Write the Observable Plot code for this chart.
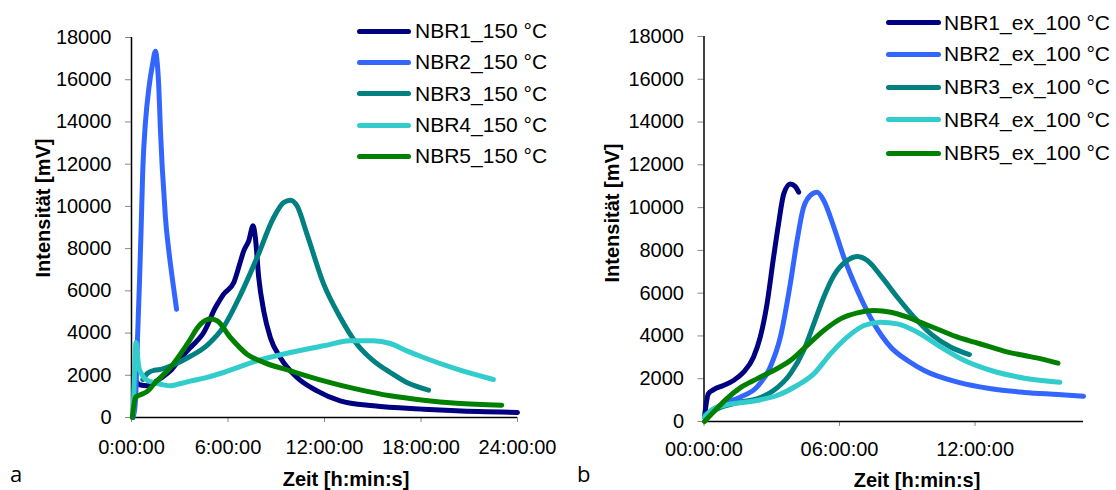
<!DOCTYPE html>
<html><head><meta charset="utf-8">
<script src="https://cdn.jsdelivr.net/npm/d3@7"></script>
<script src="https://cdn.jsdelivr.net/npm/@observablehq/plot@0.6"></script>
<style>
body{margin:0;background:#fff;}
#wrap{position:relative;width:1116px;height:490px;overflow:hidden;font-family:"Liberation Sans",Arial,sans-serif;color:#000;}
.panel{position:absolute;top:0;}
.lg{position:absolute;height:24px;line-height:24px;font-size:21px;white-space:nowrap;}
.sw{position:absolute;height:5px;border-radius:3px;}
.ttl{position:absolute;font-weight:bold;font-size:20px;white-space:nowrap;transform:translate(-50%,-50%);line-height:24px;}
.ttly{transform:translate(-50%,-50%) rotate(-90deg);}
.tag{position:absolute;font-family:"Open Sans",sans-serif;font-size:22px;line-height:normal;}
</style></head>
<body><div id="wrap"></div>
<script>
// ---------- data ----------
const colors = ["#000080", "#3366FF", "#008080", "#33CCCC", "#008000"];
const namesA = ["NBR1_150 °C", "NBR2_150 °C", "NBR3_150 °C", "NBR4_150 °C", "NBR5_150 °C"];
const namesB = ["NBR1_ex_100 °C", "NBR2_ex_100 °C", "NBR3_ex_100 °C", "NBR4_ex_100 °C", "NBR5_ex_100 °C"];
const yTicks = [0, 2000, 4000, 6000, 8000, 10000, 12000, 14000, 16000, 18000];
const xTicksA = [0, 6, 12, 18, 24];
const xLabelsA = ["0:00:00", "6:00:00", "12:00:00", "18:00:00", "24:00:00"];
const xTicksB = [0, 6, 12];
const xLabelsB = ["00:00:00", "06:00:00", "12:00:00"];
const yTitle = "Intensität [mV]";
const xTitle = "Zeit [h:min:s]";

// panel a (150 °C), time in hours
const a1_t = [0.3,0.5,1.0,1.3,1.8,2.42,3.0,3.66,4.1,4.49,4.8,5.11,5.4,5.73,6.36,6.7,6.98,7.29,7.56,7.70,7.91,8.22,8.63,9.25,10.29,11.53,12.98,15.05,18.16,20.2,24];
const a1_v = [1700,1550,1500,1600,1850,2210,2750,3316,3650,4026,4500,5053,5450,5842,6395,7200,7895,8369,9079,8527,6632,5053,3790,2842,1895,1263,790,553,395,316,240];
const a2_t = [0.1,0.25,0.35,0.5,0.6,0.7,0.87,1.08,1.3,1.49,1.6,1.7,1.8,1.9,2.0,2.11,2.32,2.59,2.8];
const a2_v = [0,800,3200,6500,9000,11700,14000,15600,16700,17350,16800,15600,13600,12000,10800,9470,7900,6300,5130];
const a3_t = [0.7,1.0,1.5,1.8,2.63,3.66,4.70,5.73,6.77,7.81,8.84,9.46,9.88,10.29,10.91,11.95,12.98,14.02,15.05,16.09,17.12,18.47];
const a3_v = [1800,2100,2250,2280,2500,2900,3420,4300,5800,7579,9474,10185,10295,10027,8685,6316,4737,3474,2684,2132,1658,1295];
const a4_t = [0.1,0.2,0.28,0.35,0.46,0.6,0.77,1.0,1.39,1.9,2.42,3.0,3.66,4.7,5.73,7.81,9.88,11.95,13.6,15.05,16.09,17.12,18.16,20.23,22.5];
const a4_v = [200,2500,3550,3100,2368,2100,1895,1750,1658,1560,1500,1600,1720,1900,2132,2684,3079,3395,3632,3632,3505,3158,2842,2290,1800];
const a5_t = [0.05,0.25,0.5,1.0,1.39,2.42,3.46,4.29,4.91,5.32,6.15,7.18,8.22,9.88,11.95,14.02,16.09,18.16,20.23,23.02];
const a5_v = [0,950,1060,1250,1580,2370,3470,4420,4660,4580,3790,3000,2610,2210,1737,1342,1026,821,679,584];

// panel b (ex 100 °C), time in hours
const b1_t = [0.02,0.19,0.41,0.86,1.30,1.75,2.19,2.49,2.79,3.08,3.30,3.53,3.82,4.04,4.19];
const b1_v = [200,1293,1480,1683,1916,2306,3007,3942,5500,7681,9239,10641,11109,10984,10719];
const b2_t = [0.05,0.86,1.6,2.34,2.93,3.38,3.82,4.12,4.41,4.79,5.01,5.30,5.75,6.19,6.79,7.53,8.27,9.01,9.75,11.23,12.71,14.19,15.67,16.8];
const b2_v = [300,826,1137,1605,2540,3942,6435,8460,10018,10641,10719,10330,9083,7681,6123,4565,3474,2851,2384,1838,1527,1360,1260,1180];
const b3_t = [0.05,0.86,1.6,2.34,3.08,3.82,4.41,4.86,5.30,5.75,6.34,6.79,7.23,7.82,8.56,9.30,10.04,10.93,11.75];
const b3_v = [300,701,904,1059,1449,2228,3319,4565,5811,6824,7525,7712,7525,6824,5811,4877,4098,3474,3132];
const b4_t = [0.02,0.41,0.86,2.34,3.23,4.12,4.86,5.6,6.34,7.08,7.82,8.56,9.45,10.49,11.53,12.71,14.19,15.75];
const b4_v = [200,592,748,982,1215,1683,2228,3163,3942,4487,4643,4565,4175,3474,2851,2384,2025,1838];
const b5_t = [0.02,0.27,0.56,1.0,1.6,2.34,3.08,3.82,4.56,5.30,6.04,6.79,7.53,8.27,9.01,9.75,10.49,11.23,11.97,12.71,13.45,14.19,14.93,15.67];
const b5_v = [0,280,592,1059,1574,1994,2384,2851,3552,4253,4799,5079,5188,5110,4877,4565,4253,3942,3708,3474,3241,3085,2929,2727];

// ---------- build ----------
const seriesA = [[a1_t,a1_v],[a2_t,a2_v],[a3_t,a3_v],[a4_t,a4_v],[a5_t,a5_v]];
const seriesB = [[b1_t,b1_v],[b2_t,b2_v],[b3_t,b3_v],[b4_t,b4_v],[b5_t,b5_v]];
const FONT = "'Liberation Sans', Arial, sans-serif";

function panel(series, names, o) {
  const data = series.flatMap((s, i) => s[0].map((t, j) => ({t, v: s[1][j], name: names[i]})));
  return Plot.plot({
    width: o.width, height: 490,
    marginLeft: o.ml, marginRight: o.mr, marginTop: o.mt, marginBottom: o.mb,
    x: {domain: [0, o.xmax]},
    y: {domain: [0, 18000]},
    color: {domain: names, range: colors},
    style: {fontFamily: FONT, fontSize: "20px", background: "transparent", overflow: "visible", color: "#000"},
    marks: [
      Plot.axisY({ticks: yTicks, tickSize: 6, tickPadding: o.typad, stroke: "#888", fill: "#000", fontSize: 20, label: null, tickFormat: d => String(d)}),
      Plot.axisX({ticks: o.xt, tickSize: 5, tickPadding: o.txpad, stroke: "#888", fill: "#000", fontSize: 20, label: null,
                  tickFormat: d => o.xl[o.xt.indexOf(d)]}),
      Plot.ruleX([0], {stroke: "#000", strokeWidth: 1.5}),
      Plot.ruleY([0], {stroke: "#000", strokeWidth: 1.5}),
      Plot.line(data, {x: "t", y: "v", z: "name", stroke: "name", strokeWidth: 5, curve: "monotone-x",
                       strokeLinecap: "round", strokeLinejoin: "round"})
    ]
  });
}

const wrap = document.getElementById("wrap");
function addPanel(svg, left) {
  const d = document.createElement("div");
  d.className = "panel"; d.style.left = left + "px";
  d.appendChild(svg); wrap.appendChild(d);
}
addPanel(panel(seriesA, namesA, {width: 560, ml: 131, mr: 43, mt: 37, mb: 73, xmax: 24, xt: xTicksA, xl: xLabelsA, typad: 14, txpad: 17}), 0);
addPanel(panel(seriesB, namesB, {width: 556, ml: 143.5, mr: 33, mt: 36, mb: 69, xmax: 16.8, xt: xTicksB, xl: xLabelsB, typad: 14, txpad: 15}), 560);

function el(cls, text, css) {
  const d = document.createElement("div");
  d.className = cls; d.textContent = text;
  Object.assign(d.style, css); wrap.appendChild(d); return d;
}
function legend(names, lineX, lineW, textX, rowsY) {
  names.forEach((n, i) => {
    el("sw", "", {left: lineX + "px", width: lineW + "px", top: (rowsY[i] - 2.5) + "px", background: colors[i]});
    el("lg", n, {left: textX + "px", top: (rowsY[i] - 12) + "px"});
  });
}
legend(namesA, 357, 54, 415, [31, 62, 93.5, 125, 156]);
legend(namesB, 886, 55, 944, [22.7, 54, 87.3, 119.5, 153.3]);

el("ttl ttly", yTitle, {left: "43px", top: "208px"});
el("ttl ttly", yTitle, {left: "612px", top: "213px"});
el("ttl", xTitle, {left: "346px", top: "479px"});
el("ttl", xTitle, {left: "917px", top: "480px"});
el("tag", "a", {left: "10px", top: "458px"});
el("tag", "b", {left: "577px", top: "458px"});
</script>
</body></html>
